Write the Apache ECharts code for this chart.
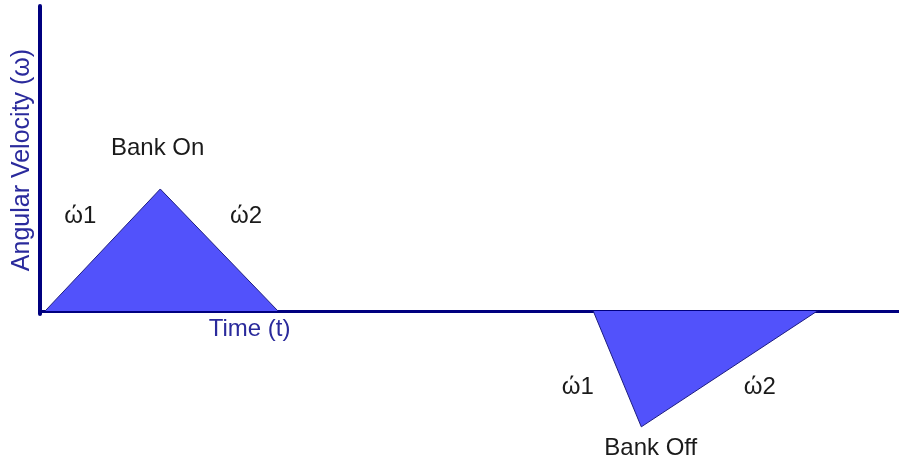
<!DOCTYPE html>
<html lang="en">
<head>
    <meta charset="UTF-8">
    <title>Bank On / Bank Off</title>
    <script src="https://cdn.jsdelivr.net/npm/echarts@6/dist/echarts.min.js"></script>
    <style>
        html, body { margin: 0; padding: 0; background: #fff; }
        #main { width: 899px; height: 463px; }
    </style>
</head>
<body>
<div id="main"></div>
<script>
    // data (time units 0-100, angular velocity units)
    var bankOnT = [0.6, 14.0, 27.7];
    var bankOnW = [0, 40, 0];
    var bankOffT = [64.4, 70.0, 90.5];
    var bankOffW = [0, -38, 0];

    // annotations: text, t, w
    var noteText = ['Bank On', 'ώ1', 'ώ2', 'ώ1', 'ώ2', 'Bank Off'];
    var noteT = [13.7, 4.7, 24.0, 62.6, 83.8, 71.1];
    var noteW = [53.4, 31.0, 31.0, -25.2, -25.2, -45.0];

    function pairs(xs, ys) {
        var out = [];
        for (var i = 0; i < xs.length; i++) out.push([xs[i], ys[i]]);
        return out;
    }

    var notes = [];
    for (var i = 0; i < noteText.length; i++) {
        notes.push({ name: noteText[i], value: [noteT[i], noteW[i]] });
    }
    notes.push({
        name: 'Time (t)', value: [24.4, -6.2],
        label: { color: '#2a2a9c' }
    });

    var triStyle = {
        type: 'line',
        symbol: 'none',
        clip: false,
        lineStyle: { color: '#1c1c80', width: 1 },
        areaStyle: { color: '#5252fb', opacity: 1 }
    };

    var chart = echarts.init(document.getElementById('main'));
    chart.setOption({
        animation: false,
        grid: { left: 40, right: 0, top: 6, bottom: 149, containLabel: false, outerBoundsMode: 'none' },
        xAxis: {
            type: 'value', min: 0, max: 100,
            axisLine: { onZero: true, lineStyle: { color: '#00007f', width: 3 } },
            axisTick: { show: false }, axisLabel: { show: false }, splitLine: { show: false }
        },
        yAxis: {
            type: 'value', min: -1, max: 100,
            name: 'Angular Velocity (ω)',
            nameLocation: 'middle',
            nameRotate: 90,
            nameGap: 5,
            nameTextStyle: { color: '#2a2a9c', fontSize: 25, fontFamily: 'Liberation Sans' },
            axisLine: { lineStyle: { color: '#00007f', width: 4 } },
            axisTick: { show: false }, axisLabel: { show: false }, splitLine: { show: false }
        },
        series: [
            Object.assign({ data: pairs(bankOnT, bankOnW) }, triStyle),
            Object.assign({ data: pairs(bankOffT, bankOffW) }, triStyle),
            {
                type: 'scatter',
                symbolSize: 0,
                clip: false,
                silent: true,
                itemStyle: { opacity: 1 },
                data: notes,
                label: {
                    show: true,
                    position: 'inside',
                    formatter: '{b}',
                    color: '#1a1a1a',
                    fontSize: 24,
                    fontFamily: 'Liberation Sans'
                }
            }
        ]
    });
</script>
</body>
</html>
